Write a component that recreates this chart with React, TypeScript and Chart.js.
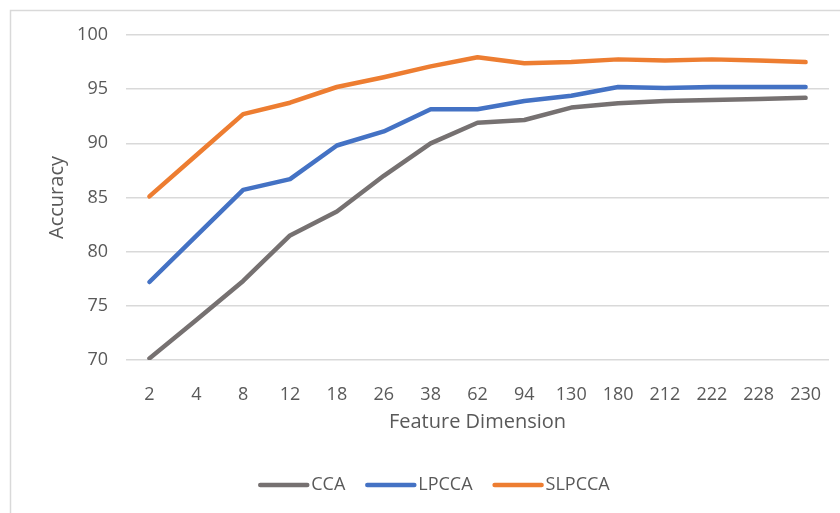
import React, { useEffect, useRef } from "react";
import { Chart, registerables } from "chart.js";

Chart.register(...registerables);

const categories = ["2", "4", "8", "12", "18", "26", "38", "62", "94", "130", "180", "212", "222", "228", "230"];
const ccaValues = [70.15, 73.7, 77.3, 81.5, 83.7, 87.0, 90.0, 91.9, 92.15, 93.3, 93.7, 93.9, 94.0, 94.1, 94.2];
const lpccaValues = [77.2, 81.45, 85.7, 86.7, 89.8, 91.1, 93.15, 93.15, 93.9, 94.4, 95.2, 95.1, 95.2, 95.2, 95.2];
const slpccaValues = [85.1, 88.9, 92.7, 93.75, 95.2, 96.1, 97.1, 97.95, 97.4, 97.5, 97.75, 97.65, 97.75, 97.65, 97.5];
const seriesNames = ["CCA", "LPCCA", "SLPCCA"];
const seriesColors = ["#767171", "#4472C4", "#ED7D31"];
const yMin = 70;
const yMax = 100;
const yStep = 5;

const FONT = "'Open Sans', 'Noto Sans', sans-serif";
const TEXT = "#595959";

const framePlugin = {
  id: "frame",
  beforeDraw(chart: any) {
    const ctx = chart.ctx;
    ctx.save();
    ctx.fillStyle = "#ffffff";
    ctx.fillRect(0, 0, chart.width, chart.height);
    ctx.strokeStyle = "#d9d9d9";
    ctx.lineWidth = 1.5;
    ctx.strokeRect(10.5, 10.5, 1000, 1000);
    ctx.restore();
  },
};

const legendPlugin = {
  id: "customLegend",
  afterDraw(chart: any) {
    const ctx = chart.ctx;
    const ds = chart.data.datasets;
    ctx.save();
    ctx.font = `18px ${FONT}`;
    ctx.textBaseline = "middle";
    const lineLen = 51;
    const gapText = 2;
    const gapItem = 20;
    const widths = ds.map((d: any) => ctx.measureText(d.label).width);
    let total = 0;
    widths.forEach((w: number, i: number) => {
      total += lineLen + gapText + w + (i < widths.length - 1 ? gapItem : 0);
    });
    let x = 434 - total / 2;
    const y = 485;
    ds.forEach((d: any, i: number) => {
      ctx.strokeStyle = d.borderColor;
      ctx.lineWidth = 4.5;
      ctx.lineCap = "round";
      ctx.beginPath();
      ctx.moveTo(x + 2, y);
      ctx.lineTo(x + lineLen - 2, y);
      ctx.stroke();
      ctx.fillStyle = TEXT;
      ctx.fillText(d.label, x + lineLen + gapText, y);
      x += lineLen + gapText + widths[i] + gapItem;
    });
    ctx.restore();
  },
};

export default function App() {
  const ref = useRef<HTMLCanvasElement | null>(null);

  useEffect(() => {
    if (!ref.current) return;
    const values = [ccaValues, lpccaValues, slpccaValues];
    const chart = new Chart(ref.current, {
      type: "line",
      data: {
        labels: categories,
        datasets: values.map((v, i) => ({
          label: seriesNames[i],
          data: v,
          borderColor: seriesColors[i],
          backgroundColor: seriesColors[i],
          borderWidth: 4.5,
          borderCapStyle: "round" as const,
          borderJoinStyle: "round" as const,
          pointRadius: 0,
          tension: 0,
          fill: false,
        })),
      },
      options: {
        responsive: false,
        animation: false,
        layout: { padding: { top: 35, right: 11, left: 0, bottom: 73 } },
        plugins: {
          legend: { display: false },
          tooltip: { enabled: false },
        },
        scales: {
          x: {
            type: "category",
            offset: true,
            grid: { display: false },
            border: { display: false },
            ticks: { color: TEXT, font: { family: FONT, size: 18 }, padding: 16, maxRotation: 0, autoSkip: false },
            title: {
              display: true,
              text: "Feature Dimension",
              color: TEXT,
              font: { family: FONT, size: 20 },
              padding: { top: 0, bottom: 6 },
            },
            afterFit(scale: any) {
              scale.height = 80;
            },
          },
          y: {
            min: yMin,
            max: yMax,
            grid: { color: "#d9d9d9", lineWidth: 1.5, drawTicks: false },
            border: { display: false },
            ticks: { stepSize: yStep, color: TEXT, font: { family: FONT, size: 18 }, padding: 18 },
            title: {
              display: true,
              text: "Accuracy",
              color: TEXT,
              font: { family: FONT, size: 20 },
              padding: { top: 45, bottom: 0 },
            },
            afterFit(scale: any) {
              scale.width = 126;
            },
          },
        },
      },
      plugins: [framePlugin, legendPlugin],
    });
    return () => chart.destroy();
  }, []);

  return (
    <div style={{ position: "absolute", left: 0, top: 0, width: 840, height: 513, background: "#fff" }}>
      <canvas ref={ref} width={840} height={513} style={{ display: "block" }} />
    </div>
  );
}
